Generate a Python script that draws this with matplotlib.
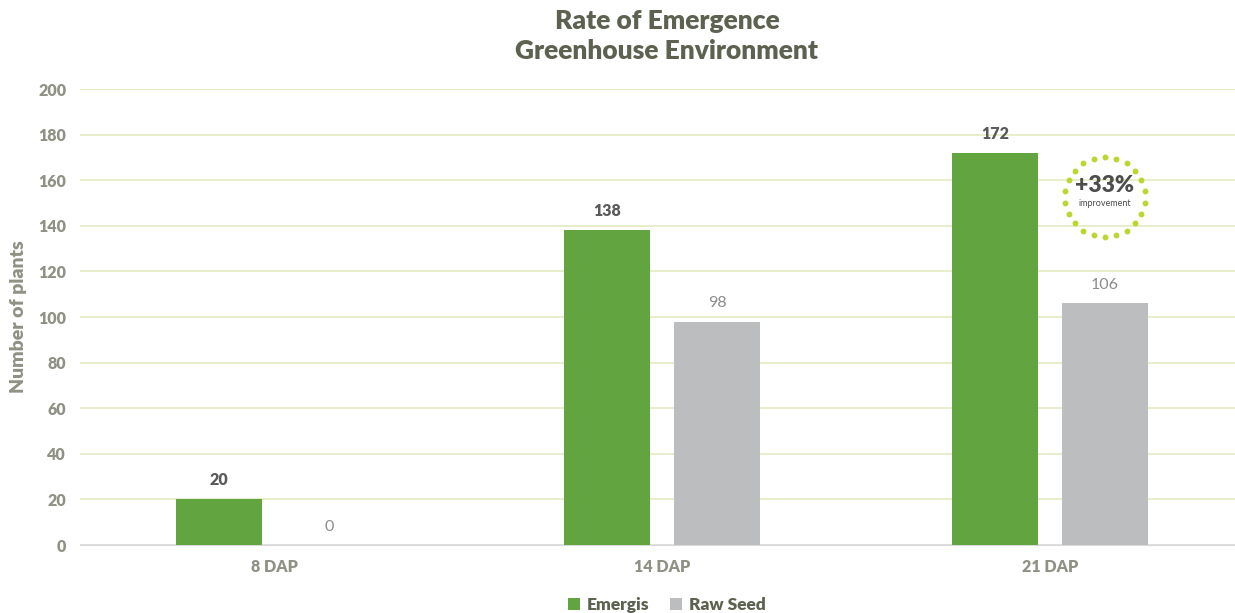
import matplotlib.pyplot as plt
import numpy as np

categories = ['8 DAP', '14 DAP', '21 DAP']
emergis = [20, 138, 172]
raw_seed = [0, 98, 106]
yticks = [0, 20, 40, 60, 80, 100, 120, 140, 160, 180, 200]

green = '#62a43f'
grey = '#bbbdbf'
dark = '#5d6250'
tick_col = '#8e9183'
grid_col = '#e4ebc2'

plt.rcParams['font.family'] = ['Lato', 'DejaVu Sans']

fig = plt.figure(figsize=(12.35, 6.13), dpi=100)
ax = fig.add_axes([0.0648, 0.1109, 0.9352, 0.7439])

x = np.arange(len(categories))
off = 0.1418
w = 0.2216
b1 = ax.bar(x - off, emergis, w, color=green, label='Emergis', zorder=3)
b2 = ax.bar(x + off, raw_seed, w, color=grey, label='Raw Seed', zorder=3)

for xi, v in zip(x, emergis):
    ax.annotate(str(v), (xi - off, v), xytext=(0, 8), textcoords='offset points',
                ha='center', va='bottom', fontsize=11.5, fontweight='heavy', color='#5a5a5a')
for xi, v in zip(x, raw_seed):
    ax.annotate(str(v), (xi + off, v), xytext=(0, 8), textcoords='offset points',
                ha='center', va='bottom', fontsize=11.5, color='#8c8c8c')

ax.set_xlim(-0.5, 2.477)
ax.set_ylim(0, 200)
ax.set_yticks(yticks)
ax.set_xticks(x)
ax.set_xticklabels(categories)
ax.grid(axis='y', color=grid_col, linewidth=1.2, zorder=0)
ax.get_ygridlines()[0].set_color('#d9d9d9')
for s in ['top', 'right', 'left']:
    ax.spines[s].set_visible(False)
ax.spines['bottom'].set_color('#d9d9d9')
ax.tick_params(length=0, labelsize=11.5, colors=tick_col, pad=10)
for lab in ax.get_xticklabels() + ax.get_yticklabels():
    lab.set_fontweight('heavy')
ax.set_ylabel('Number of plants', fontsize=14, fontweight='heavy', color=tick_col, labelpad=8)

fig.suptitle('Rate of Emergence\nGreenhouse Environment', x=0.54, y=0.985, fontsize=19,
             fontweight='heavy', color=dark, linespacing=1.3)

# dotted improvement badge (pixel coordinates)
ang = np.linspace(0, 2 * np.pi, 22, endpoint=False) + np.pi / 2
cx, cy, r = 1105, 613 - 197, 40
ax.scatter(cx + r * np.cos(ang), cy + r * np.sin(ang), s=18, color='#bcd52f',
           transform=None, zorder=5, linewidths=0, clip_on=False)
fig.text(1105 / 1235, 1 - 185 / 613, '+33%', ha='center', va='center',
         fontsize=16.5, fontweight='heavy', color='#4d4d4d')
fig.text(1105 / 1235, 1 - 203 / 613, 'improvement', ha='center', va='center',
         fontsize=6.5, color='#4d4d4d')

fig.legend(handles=[b1, b2], loc='lower center', ncol=2, frameon=False,
           bbox_to_anchor=(0.54, -0.025), handlelength=0.7,
           handleheight=0.7, handletextpad=0.4, columnspacing=1.2,
           prop={'weight': 'heavy', 'size': 12.5})
for t in fig.legends[0].get_texts():
    t.set_color(dark)

fig.savefig('out.png', dpi=100)
